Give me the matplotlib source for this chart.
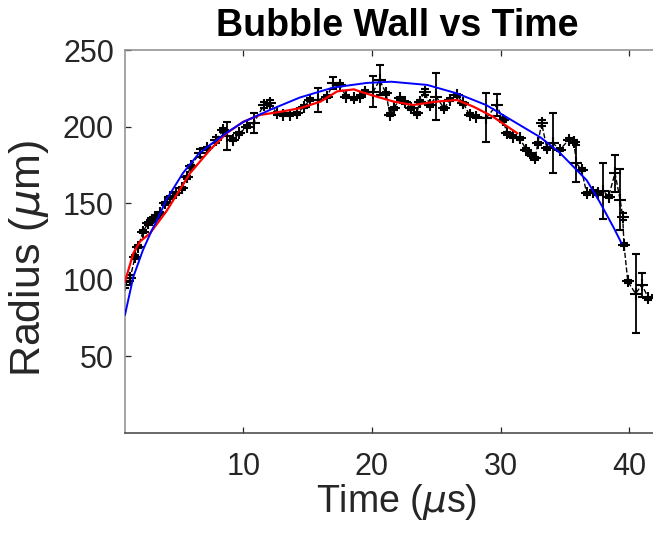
import matplotlib
matplotlib.use("Agg")
import matplotlib.pyplot as plt

# Measured bubble wall radius (um) against time (us), with uncertainty
time_us = [0.8, 1.2, 1.58, 1.84, 2.2, 2.6, 2.9, 3.1, 3.5, 3.9, 4.3, 4.8, 5.2, 5.6,
           5.9, 6.6, 7.2, 7.9, 8.45, 8.7, 9.2, 9.7, 10.3, 10.8, 11.6, 12.1, 12.6,
           13.1, 13.6, 14.2, 14.7, 15.2, 15.8, 16.5, 17.0, 17.5, 18.0, 18.6, 19.1,
           19.5, 20.1, 20.6, 21.1, 21.4, 21.7, 22.2, 22.6, 23.0, 23.5, 23.7, 24.1,
           24.5, 25.0, 25.6, 26.1, 26.6, 27.1, 27.6, 28.1, 28.9, 29.7, 30.2, 30.5,
           31.0, 31.5, 32.0, 32.4, 32.7, 32.9, 33.2, 33.6, 34.1, 34.6, 35.3, 35.7,
           35.9, 36.3, 36.7, 37.2, 37.6, 38.0, 38.4, 38.9, 39.3, 39.5, 39.6, 39.9,
           40.5, 41.0, 41.5, 42.0]
radius_um = [96.7, 101, 115, 121.7, 131.5, 137, 139, 141, 143.5, 150, 154, 156.5,
             159.8, 167, 174, 182.6, 186, 191.3, 197.8, 194, 191.3, 195.7, 200,
             202.2, 214.1, 215.2, 208.7, 207.6, 207.6, 208.7, 213, 217.4, 217.4,
             219.5, 228.3, 227.2, 219.5, 218.5, 219.5, 222.8, 222.8, 230.4, 221.7,
             207.6, 212, 218.5, 216, 212, 208.7, 216.3, 222.8, 214.1, 219.5, 212,
             217.4, 220.6, 215.2, 207.6, 206.5, 205.7, 214.1, 204.3, 195.7, 193.4,
             192.4, 184.8, 181.5, 179.3, 189.1, 202.2, 185.9, 189.1, 184.8, 191.3,
             190.2, 176.1, 171.7, 156.5, 157.6, 156.5, 158, 154.3, 169.6, 152.2,
             141.3, 122.8, 98.9, 91, 96.7, 88, 89]
radius_err = [2, 2, 1.2, 1.2, 1.2, 1, 1, 1, 1, 1, 1, 1, 1, 1, 1, 2.5, 1, 2, 1, 9,
              1, 1, 1, 6.5, 2, 2, 1, 1, 1, 1, 1, 1, 8, 1, 4, 1, 1, 1, 1, 1, 10,
              10, 1, 1, 1, 1, 1, 1, 1, 1, 2, 1, 15.5, 1, 1, 1, 1, 1, 1, 16, 7,
              1, 1, 1, 1, 1, 1, 1, 1, 2, 1, 19.5, 1, 1, 1, 12, 1, 1, 1, 1, 18,
              1, 12, 20, 2, 1, 1, 26, 8, 1, 1]

# Smoothed radius trace
smooth_t = [0.8, 1.45, 1.97, 2.75, 4.04, 5.86, 7.4, 8.7, 10.0, 11.3, 12.9, 14.4,
            16.0, 17.3, 18.6, 19.1, 20.4, 21.7, 23.2, 25.0, 26.6, 27.9, 29.4, 31.3]
smooth_r = [98.9, 117.4, 125, 130.4, 145, 169.6, 184.8, 195.7, 203.2, 207.6,
            209.7, 212, 216.3, 223, 224.3, 222.8, 219.5, 216.3, 214.1, 216.3,
            217.4, 213, 206.5, 195.7]

# Model fit of the growth and collapse
fit_t = [0.8, 1.45, 2.2, 2.9, 3.3, 4.0, 5.3, 6.5, 7.4, 8.7, 10.0, 12.1, 14.4,
         17.0, 19.6, 21.5, 24.3, 26.6, 28.9, 31.3, 33.1, 34.6, 36.7, 37.7,
         38.8, 39.4]
fit_r = [77.2, 102, 119.5, 132.6, 139, 152, 169.6, 182, 188, 196, 203, 211,
         219, 225.5, 228.5, 229.3, 227.2, 221.7, 214, 202, 193, 183, 165,
         151, 134, 124]

plt.rcParams["font.family"] = ["Liberation Sans", "DejaVu Sans"]
plt.rcParams["mathtext.fontset"] = "dejavusans"

fig = plt.figure(figsize=(6.53, 5.39), dpi=100)
ax = fig.add_axes([125 / 653, (539 - 433) / 539, (669 - 125) / 653, 383 / 539])

ax.errorbar(time_us, radius_um, yerr=radius_err, fmt="+--", color="black",
            markersize=8, markeredgewidth=1.5, linewidth=1.0, elinewidth=1.3,
            capsize=3.2, capthick=1.4, zorder=2)
ax.plot(smooth_t, smooth_r, color="#ff0000", linewidth=1.6, zorder=3)
ax.plot(fit_t, fit_r, color="#0000ff", linewidth=1.4, zorder=4)

ax.set_xlim(0.8, 43.1)
ax.set_ylim(0, 250)
ax.set_xticks([10, 20, 30, 40])
ax.set_yticks([50, 100, 150, 200, 250])

for side in ("left", "top"):
    ax.spines[side].set_color("#8c8c8c")
ax.spines["bottom"].set_color("#404040")
ax.spines["right"].set_visible(False)
for s in ax.spines.values():
    s.set_linewidth(1.1)

ax.tick_params(direction="in", length=4, width=0.9, colors="#262626",
               labelsize=22, top=True, right=False)
ax.tick_params(axis="x", pad=13.5)
ax.tick_params(axis="y", pad=8)

ax.set_xlabel(r"Time ($\mu$s)", fontsize=27, color="#262626", labelpad=0)
ax.set_ylabel(r"Radius ($\mu$m)", fontsize=31, color="#262626")
ax.yaxis.set_label_coords(-0.136, 0.455)
ax.set_title("Bubble Wall vs Time", fontsize=27, fontweight="bold",
             color="black", pad=10)

fig.savefig("out.png", dpi=100)
